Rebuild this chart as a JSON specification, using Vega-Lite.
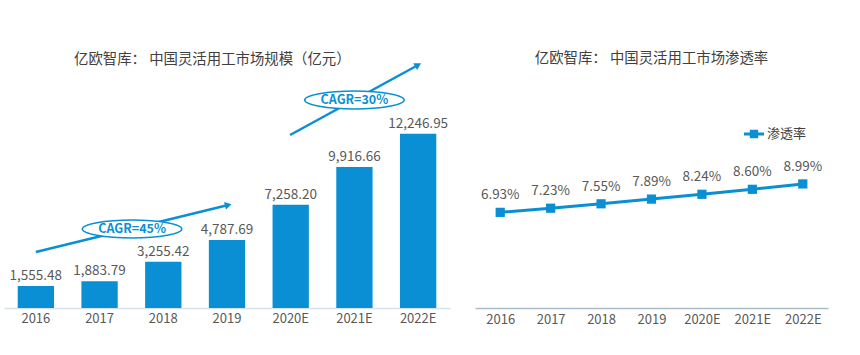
{
  "$schema": "https://vega.github.io/schema/vega-lite/v6.json",
  "padding": {"left": 4, "top": 50, "right": 10, "bottom": 8},
  "background": "white",
  "spacing": 25,
  "resolve": {"scale": {"color": "independent"}, "legend": {"color": "independent"}},
  "config": {
    "view": {"stroke": null},
    "font": "Noto Sans CJK SC",
    "title": {"fontSize": 14.4, "fontWeight": "normal", "color": "#404040", "font": "Noto Sans CJK SC", "frame": "group"},
    "axis": {"labelFont": "Noto Sans CJK SC"},
    "text": {"font": "Noto Sans CJK SC"}
  },
  "datasets": {
    "scale": [
      {"year": "2016", "value": 1555.48},
      {"year": "2017", "value": 1883.79},
      {"year": "2018", "value": 3255.42},
      {"year": "2019", "value": 4787.69},
      {"year": "2020E", "value": 7258.20},
      {"year": "2021E", "value": 9916.66},
      {"year": "2022E", "value": 12246.95}
    ],
    "cagr": [
      {"label": "CAGR=45%", "x1": 0.5, "y1": 3938, "x2": 3.52, "y2": 7243, "ex": 2.01, "ey": 5556},
      {"label": "CAGR=30%", "x1": 4.49, "y1": 12166, "x2": 6.5, "y2": 17089, "ex": 5.5, "ey": 14627}
    ],
    "rate": [
      {"year": "2016", "rate": 0.0693, "series": "渗透率"},
      {"year": "2017", "rate": 0.0723, "series": "渗透率"},
      {"year": "2018", "rate": 0.0755, "series": "渗透率"},
      {"year": "2019", "rate": 0.0789, "series": "渗透率"},
      {"year": "2020E", "rate": 0.0824, "series": "渗透率"},
      {"year": "2021E", "rate": 0.0860, "series": "渗透率"},
      {"year": "2022E", "rate": 0.0899, "series": "渗透率"}
    ]
  },
  "hconcat": [
    {
      "width": 446,
      "height": 236,
      "title": {"text": "亿欧智库：  中国灵活用工市场规模（亿元）", "anchor": "start", "dx": 70, "offset": -4, "frame": "group"},
      "resolve": {"scale": {"x": "independent"}},
      "layer": [
        {
          "data": {"name": "scale"},
          "encoding": {
            "x": {"field": "year", "type": "nominal", "sort": null,
              "scale": {"paddingInner": 0.43, "paddingOuter": 0.215},
              "axis": {"title": null, "labelAngle": 0, "ticks": false, "labelFontSize": 13, "labelColor": "#595959", "labelPadding": 4, "domainColor": "#d6e3ec", "domainWidth": 1.5}},
            "y": {"field": "value", "type": "quantitative", "scale": {"domain": [0, 16596], "nice": false, "zero": true}, "axis": null}
          },
          "layer": [
            {"mark": {"type": "bar", "color": "#0b8fd4"}},
            {
              "mark": {"type": "text", "baseline": "bottom", "dy": -3, "fontSize": 13.5, "color": "#595959"},
              "encoding": {"text": {"field": "value", "type": "quantitative", "format": ",.2f"}}
            }
          ]
        },
        {
          "data": {"name": "cagr"},
          "encoding": {
            "x": {"field": "x2", "type": "quantitative", "scale": {"domain": [0, 7]}, "axis": null},
            "y": {"field": "y2", "type": "quantitative", "scale": {"domain": [0, 16596], "nice": false, "zero": true}}
          },
          "layer": [
            {
              "mark": {"type": "rule", "color": "#0b8fd4", "strokeWidth": 2.5},
              "encoding": {
                "x": {"field": "x1", "type": "quantitative"},
                "y": {"field": "y1", "type": "quantitative"},
                "x2": {"field": "x2"},
                "y2": {"field": "y2"}
              }
            },
            {
              "transform": [{"filter": "datum.label == 'CAGR=45%'"}],
              "mark": {"type": "point", "shape": "triangle-right", "filled": true, "color": "#0b8fd4", "size": 60, "angle": 346, "opacity": 1}
            },
            {
              "transform": [{"filter": "datum.label == 'CAGR=30%'"}],
              "mark": {"type": "point", "shape": "triangle-right", "filled": true, "color": "#0b8fd4", "size": 60, "angle": 331, "opacity": 1}
            },
            {
              "mark": {"type": "point", "shape": "M-1,0C-1,-0.094,-0.552,-0.18,0,-0.18C0.552,-0.18,1,-0.094,1,0C1,0.094,0.552,0.18,0,0.18C-0.552,0.18,-1,0.094,-1,0Z",
                "filled": true, "fill": "white", "stroke": "#0b8fd4", "strokeWidth": 1.5, "size": 9900, "opacity": 1, "fillOpacity": 1},
              "encoding": {
                "x": {"field": "ex", "type": "quantitative"},
                "y": {"field": "ey", "type": "quantitative"}
              }
            },
            {
              "mark": {"type": "text", "fontSize": 12.5, "fontWeight": "bold", "color": "#0b8fd4"},
              "encoding": {
                "x": {"field": "ex", "type": "quantitative"},
                "y": {"field": "ey", "type": "quantitative"},
                "text": {"field": "label"}
              }
            }
          ]
        }
      ]
    },
    {
      "width": 353,
      "height": 236,
      "title": {"text": "亿欧智库：  中国灵活用工市场渗透率", "anchor": "middle", "offset": 6, "frame": "group"},
      "data": {"name": "rate"},
      "encoding": {
        "x": {"field": "year", "type": "ordinal", "sort": null,
          "scale": {"type": "point", "padding": 0.5},
          "axis": {"title": null, "labelAngle": 0, "ticks": false, "labelFontSize": 13, "labelColor": "#595959", "labelPadding": 5, "domainColor": "#a9bccb", "domainWidth": 1.5}},
        "y": {"field": "rate", "type": "quantitative", "scale": {"domain": [0, 0.171]}, "axis": null}
      },
      "layer": [
        {
          "mark": {"type": "line", "strokeWidth": 3},
          "encoding": {
            "color": {"field": "series", "type": "nominal",
              "scale": {"range": ["#0b8fd4"]},
              "legend": {"title": null, "orient": "none", "legendX": 269, "legendY": 52,
                "symbolType": "M-1,-0.14L1,-0.14L1,0.14L-1,0.14ZM-0.42,-0.42L0.42,-0.42L0.42,0.42L-0.42,0.42Z",
                "symbolSize": 400, "symbolStrokeWidth": 0, "symbolFillColor": "#0b8fd4", "symbolOpacity": 1,
                "labelFontSize": 13, "labelColor": "#404040", "labelOffset": 3}}
          }
        },
        {
          "mark": {"type": "point", "shape": "square", "filled": true, "size": 85, "opacity": 1, "color": "#0b8fd4"}
        },
        {
          "mark": {"type": "text", "dy": -17, "fontSize": 13.5, "color": "#595959"},
          "encoding": {"text": {"field": "rate", "type": "quantitative", "format": ".2%"}}
        }
      ]
    }
  ]
}
